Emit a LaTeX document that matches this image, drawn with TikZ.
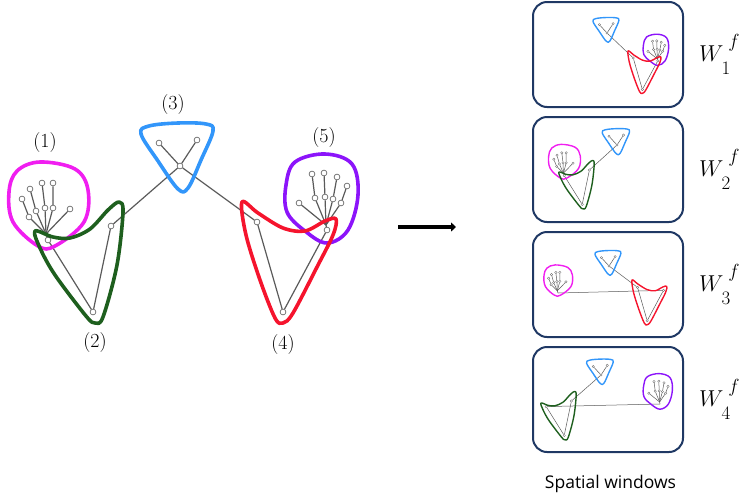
\RequirePackage{fix-cm}
\documentclass[tikz,border=0pt]{standalone}
\usepackage{fontspec}
\newfontfamily\capfont{Open Sans}
\usetikzlibrary{arrows.meta}
\pgfdeclarelayer{loops}
\pgfsetlayers{main,loops}

\definecolor{cMag}{RGB}{240,30,240}
\definecolor{cGreen}{RGB}{30,95,30}
\definecolor{cBlue}{RGB}{50,150,250}
\definecolor{cRed}{RGB}{245,20,45}
\definecolor{cPurple}{RGB}{140,20,250}
\definecolor{navy}{RGB}{31,56,100}
\definecolor{bonecol}{RGB}{90,90,90}
\definecolor{jointcol}{RGB}{110,110,110}

\tikzset{
  biglook/.style={
    bone/.style={draw=bonecol, line width=1.2pt},
    joint/.style={circle, draw=jointcol, fill=white, line width=0.7pt, inner sep=0pt, minimum size=5.8pt},
    loop/.style={line width=3.6pt, line join=round}},
  smalllook/.style={
    bone/.style={draw=bonecol, line width=0.5pt},
    joint/.style={circle, draw=jointcol, fill=white, line width=0.35pt, inner sep=0pt, minimum size=2.4pt},
    loop/.style={line width=1.4pt, line join=round}},
  lab/.style={font=\fontsize{20}{22}\selectfont, inner sep=0pt},
  winbox/.style={draw=navy, line width=2pt, rounded corners=14pt, minimum width=150pt, minimum height=105pt},
  wlab/.style={anchor=base west, inner sep=0pt},
}

% window label W_i^f with large scripts
\newcommand\wname[1]{\fontsize{23}{23}\selectfont$W$\kern-2pt\raisebox{-12.5pt}{\fontsize{19}{19}\selectfont #1}\kern-2pt\raisebox{14pt}{\fontsize{19}{19}\selectfont$f$}}

% head (3): centre joint and two upper joints, with its blue loop
\newcommand\headpart{%
  \node[joint] (H) at (180,166) {};
  \node[joint] (HL) at (159,143) {};
  \node[joint] (HR) at (197,140) {};
  \draw[bone] (H) -- (HL);
  \draw[bone] (H) -- (HR);
  \begin{pgfonlayer}{loops}
  \draw[loop, cBlue] plot[smooth cycle, tension=0.6] coordinates
    {(141,134) (149,126) (178,123) (206,124) (213,131) (201,160) (188,188) (178,189) (158,161)};
  \end{pgfonlayer}}

% hand (1), wrist at (48,240)
\newcommand\handone{%
  \coordinate (R1) at (48,240);
  \coordinate (P1) at (46,234);
  \node[joint] (t1a) at (22,199) {}; \node[joint] (m1a) at (29,217) {};
  \node[joint] (t1b) at (30,189) {}; \node[joint] (m1b) at (36,211) {};
  \node[joint] (t1c) at (42,183) {}; \node[joint] (m1c) at (45,208) {};
  \node[joint] (t1d) at (53,183) {}; \node[joint] (m1d) at (53,208) {};
  \node[joint] (th1) at (70,209) {};
  \draw[bone] (R1) -- (P1);
  \draw[bone] (P1) -- (m1a) -- (t1a);
  \draw[bone] (P1) -- (m1b) -- (t1b);
  \draw[bone] (P1) -- (m1c) -- (t1c);
  \draw[bone] (P1) -- (m1d) -- (t1d);
  \draw[bone] (P1) -- (th1);
  \begin{pgfonlayer}{loops}
  \draw[loop, cMag] plot[smooth cycle, tension=0.6] coordinates
    {(9,192) (17,171) (40,162) (75,169) (88,190) (84,222) (55,246) (38,246) (13,222)};
  \end{pgfonlayer}}

% hand (5), wrist at (327,230)
\newcommand\handfive{%
  \coordinate (R5) at (327,230);
  \coordinate (P5) at (326,225);
  \node[joint] (t5a) at (312,174) {}; \node[joint] (m5a) at (315,198) {};
  \node[joint] (t5b) at (324,173) {}; \node[joint] (m5b) at (325,197) {};
  \node[joint] (t5c) at (337,177) {}; \node[joint] (m5c) at (333,199) {};
  \node[joint] (t5d) at (347,186) {}; \node[joint] (m5d) at (341,203) {};
  \node[joint] (th5) at (299,203) {};
  \draw[bone] (R5) -- (P5);
  \draw[bone] (P5) -- (m5a) -- (t5a);
  \draw[bone] (P5) -- (m5b) -- (t5b);
  \draw[bone] (P5) -- (m5c) -- (t5c);
  \draw[bone] (P5) -- (m5d) -- (t5d);
  \draw[bone] (P5) -- (th5);
  \begin{pgfonlayer}{loops}
  \draw[loop, cPurple] plot[smooth cycle, tension=0.6] coordinates
    {(286,185) (295,162) (325,154) (352,164) (358,195) (348,230) (327,243) (305,231) (287,212)};
  \end{pgfonlayer}}

% arm (2): shoulder, elbow, wrist
\newcommand\armtwo{%
  \node[joint] (S2) at (111,226) {};
  \node[joint] (E2) at (93,312) {};
  \node[joint] (W2) at (48,240) {};
  \draw[bone] (S2) -- (E2) -- (W2);
  \begin{pgfonlayer}{loops}
  \draw[loop, cGreen] plot[smooth cycle, tension=0.55] coordinates
    {(35,231) (53,237) (70,238) (90,229) (108,210) (119,202) (123,212) (117,265) (103,317) (95,323) (86,316) (55,275) (40,248)};
  \end{pgfonlayer}}

% arm (4): shoulder, elbow, wrist
\newcommand\armfour{%
  \node[joint] (S4) at (257,222) {};
  \node[joint] (E4) at (283,312) {};
  \node[joint] (W4) at (327,230) {};
  \draw[bone] (S4) -- (E4) -- (W4);
  \begin{pgfonlayer}{loops}
  \draw[loop, cRed] plot[smooth cycle, tension=0.55] coordinates
    {(242,202) (258,213) (283,228) (305,231) (325,221) (336,219) (333,235) (317,267) (293,313) (283,323) (275,318) (260,280) (246,235)};
  \end{pgfonlayer}}

\begin{document}
\begin{tikzpicture}[x=1pt, y=-1pt]
\useasboundingbox (0,0) rectangle (743,496);

% ---- full skeleton ----
\begin{scope}[biglook]
  \headpart
  \handone
  \armtwo
  \handfive
  \armfour
  \draw[bone] (H) -- (S2);
  \draw[bone] (H) -- (S4);
\end{scope}
\node[lab] (n1) at (45,143) {(1)};
\node[lab] (n2) at (95,343) {(2)};
\node[lab] (n3) at (173,105) {(3)};
\node[lab] (n4) at (283,345) {(4)};
\node[lab] (n5) at (324,138) {(5)};

% ---- arrow ----
\coordinate (a0) at (398,227);
\coordinate (a1) at (456,227);
\draw[line width=4pt, -{Triangle[length=5pt, width=9pt]}] (a0) -- (a1);

% ---- spatial windows ----
\node[winbox] (b1) at (608,54.5) {};
\node[winbox] (b2) at (608,169.5) {};
\node[winbox] (b3) at (608,284.5) {};
\node[winbox] (b4) at (608,399.5) {};

\node[wlab] (wl1) at (699,61.5) {\wname{1}};
\node[wlab] (wl2) at (699,176.5) {\wname{2}};
\node[wlab] (wl3) at (699,291.5) {\wname{3}};
\node[wlab] (wl4) at (699,406.5) {\wname{4}};

\node[font=\capfont\fontsize{17.5}{20}\selectfont, anchor=base, inner sep=0pt] (cap) at (610.5,488) {Spatial windows};

% window 1: head, arm (4), hand (5)
\begin{scope}[smalllook, name prefix=w1-]
  \begin{scope}[shift={(607,33)}, scale=0.36, shift={(-180,-166)}] \headpart \end{scope}
  \begin{scope}[shift={(628,51)}, scale=0.35, shift={(-242,-202)}] \handfive \armfour \end{scope}
  \draw[bone] (H) -- (S4);
\end{scope}

% window 2: head, arm (2), hand (1)
\begin{scope}[smalllook, name prefix=w2-]
  \begin{scope}[shift={(617,145)}, scale=0.38, shift={(-180,-166)}] \headpart \end{scope}
  \begin{scope}[shift={(559,172)}, scale=0.4, shift={(-35,-231)}] \handone \armtwo \end{scope}
  \draw[bone] (H) -- (S2);
\end{scope}

% window 3: head, arm (4), hand (1)
\begin{scope}[smalllook, name prefix=w3-]
  \begin{scope}[shift={(609,266)}, scale=0.36, shift={(-180,-166)}] \headpart \end{scope}
  \begin{scope}[shift={(558,293)}, scale=0.36, shift={(-48,-240)}] \handone \end{scope}
  \begin{scope}[shift={(632,280)}, scale=0.37, shift={(-242,-202)}] \armfour \end{scope}
  \draw[bone] (H) -- (S4);
  \draw[bone] (R1) -- (W4);
\end{scope}

% window 4: head, arm (2), hand (5)
\begin{scope}[smalllook, name prefix=w4-]
  \begin{scope}[shift={(601,375)}, scale=0.37, shift={(-180,-166)}] \headpart \end{scope}
  \begin{scope}[shift={(660,404)}, scale=0.4, shift={(-327,-230)}] \handfive \end{scope}
  \begin{scope}[shift={(541,403)}, scale=0.4, shift={(-35,-231)}] \armtwo \end{scope}
  \draw[bone] (H) -- (S2);
  \draw[bone] (W2) -- (R5);
\end{scope}
\end{tikzpicture}
\end{document}
